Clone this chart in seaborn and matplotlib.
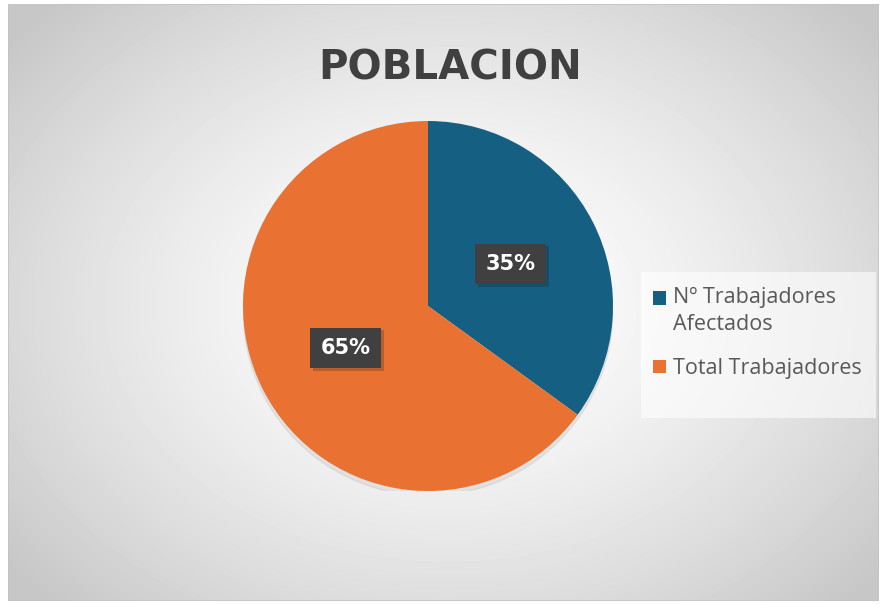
import numpy as np
import matplotlib
matplotlib.use("Agg")
import matplotlib.pyplot as plt
import matplotlib.patheffects as pe
import seaborn as sns

# Datos
categorias = ["Nº Trabajadores\nAfectados", "Total Trabajadores"]
valores = [35, 65]
colores = ["#156082", "#E97132"]
titulo = "POBLACION"

sns.set_theme(style="white")
plt.rcParams["font.family"] = ["Open Sans", "DejaVu Sans"]

W, H = 882, 604
fig = plt.figure(figsize=(W / 100, H / 100), dpi=100)
fig.patch.set_facecolor("white")

# Fondo con degradado radial
bg = fig.add_axes([8 / W, 3 / H, 871 / W, 597 / H])
yy, xx = np.mgrid[0:597, 0:871]
cx, cy = 440, 300
d = np.sqrt(((xx - cx) / 560.0) ** 2 + ((yy - cy) / 420.0) ** 2)
d = np.clip(d, 0, 1)
gris = 1.0 - 0.22 * d ** 1.5
bg.imshow(gris, cmap="gray", vmin=0, vmax=1, aspect="auto", interpolation="bilinear")
bg.set_axis_off()
borde = plt.Rectangle((0, 0), 1, 1, transform=bg.transAxes, fill=False,
                      edgecolor="#c4c4c4", linewidth=1.2)
bg.add_patch(borde)

# Caja de la leyenda
caja = plt.Rectangle((641 / W, 1 - 418 / H), 235 / W, 146 / H, transform=fig.transFigure,
                     facecolor="white", alpha=0.6, edgecolor="none")
fig.patches.append(caja)

# Gráfico circular
r = 185
cxp, cyp = 428, 306
ax = fig.add_axes([(cxp - r) / W, (H - cyp - r) / H, 2 * r / W, 2 * r / H])
ax.set_axis_off()

# sombra suave
sombra = plt.Circle((0, -0.025), 1.0, color="#000000", alpha=0.06, zorder=0)
ax.add_patch(sombra)

wedges, _, autotexts = ax.pie(valores, colors=colores, startangle=90, counterclock=False,
                              radius=1, autopct="%1.0f%%", pctdistance=0.5,
                              wedgeprops=dict(linewidth=0),
                              textprops=dict(color="white", fontsize=15, fontweight="bold",
                                             family=["DejaVu Sans"]))
ax.set_xlim(-1, 1)
ax.set_ylim(-1, 1)
ax.set_aspect("equal")

for t in autotexts:
    t.set_bbox(dict(boxstyle="square,pad=0.5", facecolor="#404040", edgecolor="none"))
    t.get_bbox_patch().set_path_effects([pe.SimplePatchShadow(offset=(2, -2), alpha=0.22),
                                         pe.Normal()])

# Título
fig.text(450 / W, 1 - 68 / H, titulo, ha="center", va="center", fontsize=29,
         fontweight="bold", color="#404040", family=["DejaVu Sans"])

# Leyenda
leg = fig.legend(wedges, categorias, loc="upper left",
                 bbox_to_anchor=(653 / W, 1 - 287 / H), frameon=False,
                 fontsize=15.5, handlelength=0.6, handleheight=0.6, handletextpad=0.35,
                 labelspacing=1.05, borderpad=0, borderaxespad=0,
                 labelcolor="#595959")
for txt in leg.get_texts():
    txt.set_linespacing(1.4)
# marcador alineado con la primera línea
h0 = leg.legend_handles[0]
h0.set_y(h0.get_y() + 10)

fig.savefig("out.png", dpi=100)
